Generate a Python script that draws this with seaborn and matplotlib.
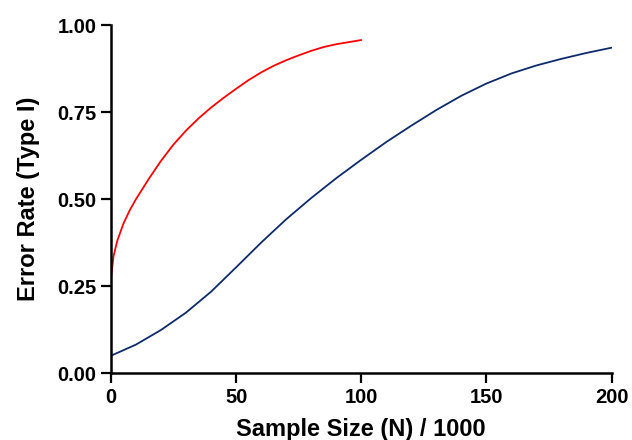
import numpy as np
import pandas as pd
import matplotlib
matplotlib.use("Agg")
import matplotlib.pyplot as plt
import seaborn as sns

# Values
red_n = [0, 1, 2.5, 5, 7.5, 10, 15, 20, 25, 30, 35, 40, 45, 50, 55, 60, 65, 70, 75, 80, 85, 90, 95, 100]
red_err = [0.272, 0.335, 0.380, 0.430, 0.468, 0.500, 0.557, 0.610, 0.657, 0.697, 0.732, 0.763, 0.791,
           0.817, 0.842, 0.864, 0.883, 0.899, 0.913, 0.926, 0.937, 0.945, 0.951, 0.957]

blue_n = [0, 10, 20, 30, 40, 50, 60, 70, 80, 90, 100, 110, 120, 130, 140, 150, 160, 170, 180, 190, 200]
blue_err = [0.050, 0.082, 0.124, 0.174, 0.234, 0.304, 0.375, 0.442, 0.503, 0.560, 0.613, 0.664, 0.711,
            0.756, 0.797, 0.832, 0.861, 0.884, 0.903, 0.920, 0.935]

x_ticks = [0, 50, 100, 150, 200]
y_ticks = [0.00, 0.25, 0.50, 0.75, 1.00]

sns.set_theme(style="ticks")
plt.rcParams['font.family'] = ['Liberation Sans', 'DejaVu Sans']
plt.rcParams['font.weight'] = 'bold'

fig = plt.figure(figsize=(6.32, 4.4), dpi=100)
ax = fig.add_axes([0.1756, 0.152, 0.792, 0.791])

red_df = pd.DataFrame({"n": red_n, "err": red_err})
blue_df = pd.DataFrame({"n": blue_n, "err": blue_err})

sns.lineplot(data=blue_df, x="n", y="err", ax=ax, color="#0d2a6b", linewidth=1.3)
sns.lineplot(data=red_df, x="n", y="err", ax=ax, color="#ff0000", linewidth=1.3)

ax.set_xlim(0, 200)
ax.set_ylim(0, 1)
ax.set_xticks(x_ticks)
ax.set_yticks(y_ticks)
ax.set_xticklabels([str(t) for t in x_ticks])
ax.set_yticklabels([f"{t:.2f}" for t in y_ticks])
ax.set_xlabel("Sample Size (N) / 1000", fontsize=17, fontweight="bold", color="black", labelpad=8)
ax.set_ylabel("Error Rate (Type I)", fontsize=17, fontweight="bold", color="black", labelpad=12)
ax.tick_params(axis="both", labelsize=14.5, width=1.6, length=7, color="black", labelcolor="black")
for lbl in ax.get_xticklabels() + ax.get_yticklabels():
    lbl.set_fontweight("bold")

sns.despine(ax=ax)
for side in ["left", "bottom"]:
    ax.spines[side].set_linewidth(1.8)
    ax.spines[side].set_color("black")

fig.savefig("out.png", dpi=100)
